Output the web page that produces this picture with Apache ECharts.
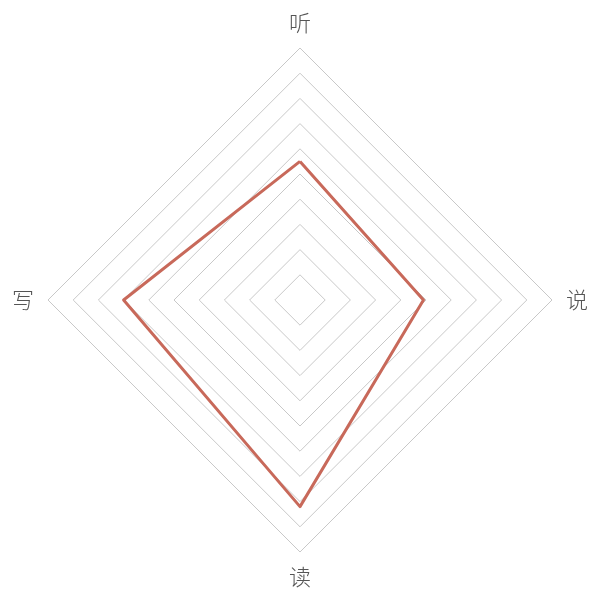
<!DOCTYPE html>
<html><head><meta charset="utf-8">
<script src="https://cdn.jsdelivr.net/npm/echarts@6/dist/echarts.min.js"></script>
<style>html,body{margin:0;padding:0;background:#fff}#c{width:600px;height:600px}</style>
</head><body><div id="c"></div>
<script>
// ECharts radar places indicators counter-clockwise starting at the top
const indicators = ['听', '写', '读', '说'];
const maxValues = [100, 100, 100, 100];
const scores = [55, 70, 82, 49];

const chart = echarts.init(document.getElementById('c'), null, {renderer: 'canvas'});
chart.setOption({
  animation: false,
  radar: {
    center: [300, 300],
    radius: 252,
    startAngle: 90,
    splitNumber: 10,
    shape: 'polygon',
    indicator: indicators.map((n, i) => ({name: n, max: maxValues[i]})),
    axisName: {color: '#555', fontSize: 22, fontFamily: 'Noto Sans CJK SC', fontWeight: 300},
    nameGap: 14,
    axisLine: {show: false},
    splitLine: {lineStyle: {color: '#c8c8c8', width: 1}},
    splitArea: {show: false},
    axisTick: {show: false},
    axisLabel: {show: false}
  },
  series: [{
    type: 'radar',
    symbol: 'none',
    lineStyle: {color: '#c8695a', width: 3},
    data: [{value: scores}]
  }]
});
</script></body></html>
